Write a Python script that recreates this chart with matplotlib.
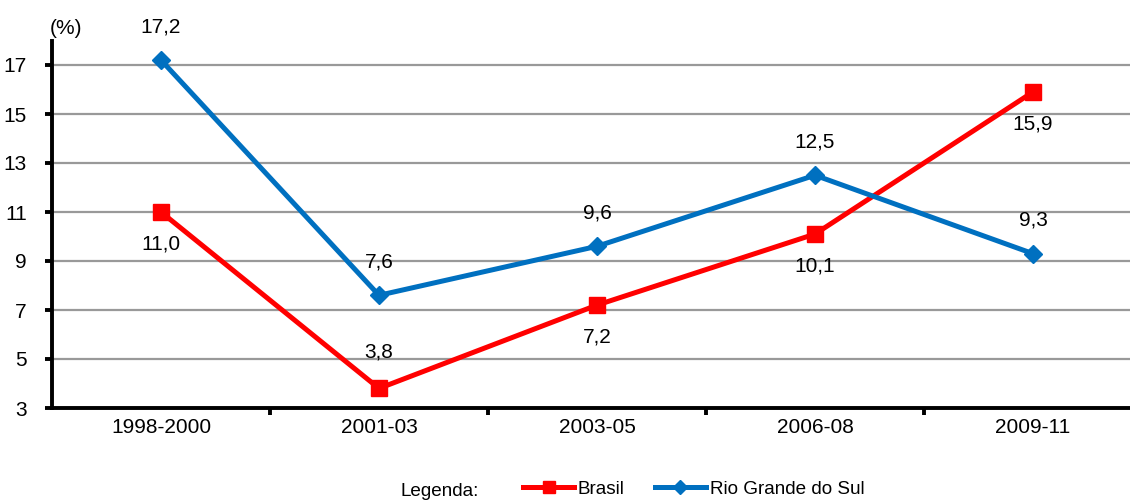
import matplotlib
matplotlib.use("Agg")
import matplotlib.pyplot as plt
from matplotlib.lines import Line2D

plt.rcParams['font.family'] = ['Liberation Sans', 'DejaVu Sans']

periods = ["1998-2000", "2001-03", "2003-05", "2006-08", "2009-11"]
brasil = [11.0, 3.8, 7.2, 10.1, 15.9]
rio_grande = [17.2, 7.6, 9.6, 12.5, 9.3]
# label placement: +1 above the point, -1 below
brasil_side = [-1, 1, -1, -1, -1]
rio_side = [1, 1, 1, 1, 1]
yticks = [3, 5, 7, 9, 11, 13, 15, 17]

RED = "#FF0000"
BLUE = "#0070C0"
FS = 15
LEG_FS = 13.6

fig = plt.figure(figsize=(11.3, 5.0), dpi=100)
ax = fig.add_axes([52 / 1130, 92 / 500, 1090 / 1130, 367.5 / 500])

x = list(range(len(periods)))
ax.plot(x, brasil, color=RED, lw=3.6, marker="s", ms=11, zorder=3)
ax.plot(x, rio_grande, color=BLUE, lw=3.6, marker="D", ms=9, zorder=4)

def fmt(v):
    return f"{v:.1f}".replace(".", ",")

for xi, v, s in zip(x, brasil, brasil_side):
    ax.annotate(fmt(v), (xi, v), xytext=(0, (26 if s > 0 else 23) * s),
                textcoords="offset points", ha="center", va="center", fontsize=FS)
for xi, v, s in zip(x, rio_grande, rio_side):
    ax.annotate(fmt(v), (xi, v), xytext=(0, 24 * s), textcoords="offset points",
                ha="center", va="center", fontsize=FS)

ax.set_xlim(-0.5, len(periods) - 0.5)
ax.set_ylim(3, 18)
ax.set_yticks(yticks)
ax.set_yticklabels([str(t) for t in yticks], fontsize=FS)
ax.yaxis.grid(True, color="#999999", lw=1.6)
ax.set_axisbelow(True)

ax.set_xticks([i + 0.5 for i in range(len(periods) - 1)])
ax.set_xticklabels([])
ax.set_xticks(x, minor=True)
ax.set_xticklabels(periods, minor=True, fontsize=FS)
ax.tick_params(axis="x", which="minor", length=0, pad=7)
ax.tick_params(axis="x", which="major", length=5, width=2.8, direction="out")
ax.tick_params(axis="y", length=5, width=2.8, direction="out", pad=13)

for side in ("top", "right"):
    ax.spines[side].set_visible(False)
for side in ("left", "bottom"):
    ax.spines[side].set_linewidth(2.8)
    ax.spines[side].set_color("black")

fig.text(50 / 1130, 1 - 28 / 500, "(%)", fontsize=FS, ha="left", va="center")

handles = [
    Line2D([], [], color=RED, lw=3.6, marker="s", ms=9),
    Line2D([], [], color=BLUE, lw=3.6, marker="D", ms=7),
]
fig.text(400 / 1130, 1 - 491 / 500, "Legenda:", fontsize=LEG_FS, ha="left", va="center")
fig.legend(handles, ["Brasil", "Rio Grande do Sul"], loc="center left",
           bbox_to_anchor=(523 / 1130, 1 - 489 / 500), ncol=2, frameon=False,
           fontsize=LEG_FS, handlelength=2.7, handletextpad=0.2, columnspacing=1.6,
           borderpad=0, borderaxespad=0)

fig.savefig("out.png", dpi=100)
